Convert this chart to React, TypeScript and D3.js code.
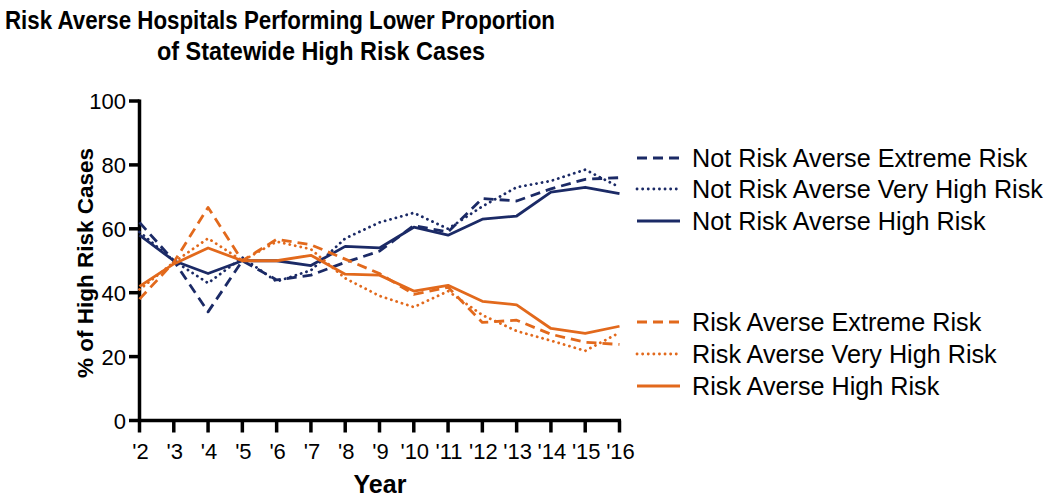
import React from "react";
import * as d3 from "d3";

const years = ["'2", "'3", "'4", "'5", "'6", "'7", "'8", "'9", "'10", "'11", "'12", "'13", "'14", "'15", "'16"];
const nraExtreme = [62, 50, 34, 50, 44, 45.5, 49.5, 53, 61, 59, 69.5, 68.7, 72.5, 75.5, 76];
const nraVeryHigh = [59, 50, 43, 51, 43.5, 47, 57, 62, 65, 60, 67, 73, 75, 78.5, 73];
const nraHigh = [58, 50, 46, 50, 50, 48.5, 54.5, 54, 60.5, 58, 63, 64, 71.5, 73, 71];
const raExtreme = [38, 49.5, 66.7, 50, 56.7, 55, 50.5, 46, 39.5, 41.7, 30.7, 31.4, 27, 24.5, 23.8];
const raVeryHigh = [41, 49.5, 57, 50, 56, 53.6, 44.5, 39, 35.5, 40.5, 33, 28, 25, 21.8, 27.5];
const raHigh = [42, 49, 54, 50, 50, 51.7, 45.8, 45.5, 40.5, 42.3, 37.3, 36.2, 28.8, 27.3, 29.5];
const yTicks = [0, 20, 40, 60, 80, 100];

const NAVY = "#1b2a66";
const ORANGE = "#e2691c";

const series = [
  { name: "Not Risk Averse Extreme Risk", values: nraExtreme, color: NAVY, dash: "10,6", cap: "butt" },
  { name: "Not Risk Averse Very High Risk", values: nraVeryHigh, color: NAVY, dash: "0.1,5.5", cap: "round" },
  { name: "Not Risk Averse High Risk", values: nraHigh, color: NAVY, dash: null, cap: "butt" },
  { name: "Risk Averse Extreme Risk", values: raExtreme, color: ORANGE, dash: "10,6", cap: "butt" },
  { name: "Risk Averse Very High Risk", values: raVeryHigh, color: ORANGE, dash: "0.1,5.5", cap: "round" },
  { name: "Risk Averse High Risk", values: raHigh, color: ORANGE, dash: null, cap: "butt" },
];

const legendY = [158, 189, 221, 322, 354, 386];

export default function App() {
  const W = 1050, H = 498;
  const x = d3.scalePoint<string>().domain(years).range([139.5, 619.5]);
  const y = d3.scaleLinear().domain([0, 100]).range([420.5, 101]);
  const line = d3.line<number>().x((_, i) => x(years[i]) as number).y((d) => y(d));
  const font = "Arial, 'Liberation Sans', Helvetica, sans-serif";

  return (
    <svg width={W} height={H} style={{ position: "absolute", left: 0, top: 0, background: "#fff" }} fontFamily={font}>
      <text x={5} y={29} fontSize={25} fontWeight="bold" textLength={550} lengthAdjust="spacingAndGlyphs">Risk Averse Hospitals Performing Lower Proportion</text>
      <text x={157} y={60} fontSize={25} fontWeight="bold" textLength={328} lengthAdjust="spacingAndGlyphs">of Statewide High Risk Cases</text>

      {/* axes */}
      <line x1={139.5} x2={139.5} y1={y(100) - 1.5} y2={y(0) + 1.5} stroke="#000" strokeWidth={3.5} />
      <line x1={138} x2={621} y1={y(0)} y2={y(0)} stroke="#000" strokeWidth={3.5} />
      {yTicks.map((t) => (
        <g key={t}>
          <line x1={129} x2={139.5} y1={y(t)} y2={y(t)} stroke="#000" strokeWidth={3.5} />
          <text x={126} y={y(t) + 8} textAnchor="end" fontSize={22}>{t}</text>
        </g>
      ))}
      {years.map((yr) => (
        <g key={yr}>
          <line x1={x(yr)} x2={x(yr)} y1={y(0)} y2={y(0) + 12} stroke="#000" strokeWidth={3.5} />
          <text x={(x(yr) as number) + 1} y={459} textAnchor="middle" fontSize={22}>{yr}</text>
        </g>
      ))}
      <text x={380} y={493} textAnchor="middle" fontSize={25} fontWeight="bold">Year</text>
      <text transform={`translate(93,263) rotate(-90)`} textAnchor="middle" fontSize={22.5} fontWeight="bold">% of High Risk Cases</text>

      {/* lines */}
      {series.map((s) => (
        <path key={s.name} d={line(s.values) || ""} fill="none" stroke={s.color} strokeWidth={2.8}
          strokeDasharray={s.dash || undefined} strokeLinecap={s.cap as any} strokeLinejoin="round" />
      ))}

      {/* legend */}
      {series.map((s, i) => (
        <g key={s.name}>
          <line x1={637} x2={680} y1={legendY[i]} y2={legendY[i]} stroke={s.color} strokeWidth={2.8}
            strokeDasharray={s.dash || undefined} strokeLinecap={s.cap as any} />
          <text x={692} y={legendY[i] + 8.5} fontSize={25.2}>{s.name}</text>
        </g>
      ))}
    </svg>
  );
}
